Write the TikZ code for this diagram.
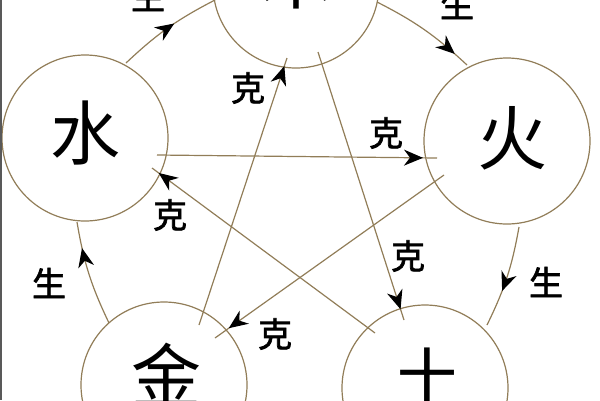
\documentclass[tikz,border=0pt]{standalone}
\usepackage{fontspec}
\newfontfamily\cjk{Noto Sans CJK SC}
\newfontfamily\cjklbl{Noto Sans CJK SC}[FakeBold=2]
\usetikzlibrary{arrows.meta,decorations.markings}
\definecolor{linecol}{RGB}{145,125,88}
\begin{document}
\begin{tikzpicture}[x=1pt,y=-1pt,
  elem/.style={circle,draw=linecol,line width=1.2pt,minimum size=166pt,inner sep=0pt},
  bigchar/.style={font=\cjk\fontsize{70}{70}\selectfont,inner sep=0pt},
  lbl/.style={font=\cjklbl\fontsize{34}{34}\selectfont,inner sep=0pt},
  conn/.style={draw=linecol,line width=1.2pt},
  tipat/.style={postaction={decorate},decoration={markings,mark=at position #1 with {\arrow{Stealth[length=19pt,width=16pt,inset=6pt,color=black]}}}}
]
\useasboundingbox (0,0) rectangle (600,400);
\clip (0,0) rectangle (600,400);

\node[elem] (mu) at (296,-15) {};
\node[elem] (shui) at (85,138) {};
\node[elem] (huo) at (507,141) {};
\node[elem] (jin) at (164,385) {};
\node[elem] (tu) at (425,388) {};

\node[bigchar] (muT) at ([shift={(0,-8)}]mu.center) {木};
\node[bigchar] (shuiT) at ([shift={(0,-5)}]shui.center) {水};
\node[bigchar] (huoT) at ([shift={(5,-3)}]huo.center) {火};
\node[bigchar] (jinT) at ([shift={(2,-10)}]jin.center) {金};
\node[bigchar] (tuT) at ([shift={(2,-10)}]tu.center) {土};

% sheng (generating) cycle
\draw[conn,tipat=0.57] ([shift={(41,-75)}]shui.center) to[bend left=8] ([shift={(-81,15)}]mu.center);
\draw[conn,tipat=0.85] ([shift={(81,17)}]mu.center) to[bend left=8] ([shift={(-40,-76)}]huo.center);
\draw[conn,tipat=0.64] ([shift={(12,86)}]huo.center) to[bend left=8] ([shift={(62,-63)}]tu.center);
\draw[conn,tipat=0.75] ([shift={(-55,-62)}]jin.center) to[bend left=8] ([shift={(-8,84)}]shui.center);

% ke (overcoming) star
\draw[conn,tipat=0.95] ([shift={(72,17)}]shui.center) -- ([shift={(-70,17)}]huo.center);
\draw[conn,tipat=0.94] ([shift={(-63,34)}]huo.center) -- ([shift={(51,-47)}]jin.center);
\draw[conn,tipat=0.97] ([shift={(35,-60)}]jin.center) -- ([shift={(-9,73)}]mu.center);
\draw[conn,tipat=0.96] ([shift={(22,67)}]mu.center) -- ([shift={(-21,-68)}]tu.center);
\draw[conn,tipat=0.97] ([shift={(-50,-55)}]tu.center) -- ([shift={(67,30)}]shui.center);

\node[lbl] (s1) at (148,-4) {生};
\node[lbl] (s2) at (457,4) {生};
\node[lbl] (s3) at (546,282) {生};
\node[lbl] (s4) at (49,283) {生};

\node[lbl] (k1) at (248,88) {克};
\node[lbl] (k2) at (386,133) {克};
\node[lbl] (k3) at (170,215) {克};
\node[lbl] (k4) at (408,256) {克};
\node[lbl] (k5) at (275,334) {克};

\draw[black!65,line width=1.5pt] (0.75,0) -- (0.75,400);
\end{tikzpicture}
\end{document}
